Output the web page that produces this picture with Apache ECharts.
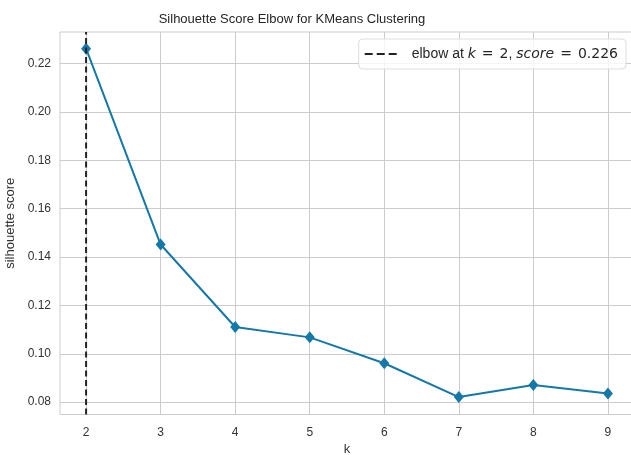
<!DOCTYPE html>
<html>
<head>
<meta charset="utf-8">
<script src="https://cdn.jsdelivr.net/npm/echarts@6/dist/echarts.min.js"></script>
<style>html,body{margin:0;padding:0;background:#fff;overflow:hidden;}#c{width:631px;height:455px;}</style>
</head>
<body>
<div id="c"></div>
<script>
const kValues = [2, 3, 4, 5, 6, 7, 8, 9];
const scores = [0.2262, 0.1452, 0.1111, 0.1068, 0.0961, 0.0821, 0.0871, 0.0836];
const xTicks = [2, 3, 4, 5, 6, 7, 8, 9];
const yTicks = [0.08, 0.10, 0.12, 0.14, 0.16, 0.18, 0.20, 0.22];
const elbowK = 2;
const elbowScore = 0.226;
const xMin = 1.65, xMax = 9.35, yMin = 0.0749, yMax = 0.2331;

const font = 'Liberation Sans, Arial, sans-serif';
const mathFont = 'DejaVu Sans, sans-serif';
const chart = echarts.init(document.getElementById('c'));
chart.setOption({
  animation: false,
  backgroundColor: '#fff',
  title: {
    text: 'Silhouette Score Elbow for KMeans Clustering',
    left: 287, top: 8, textAlign: 'center',
    textStyle: {fontFamily: font, fontSize: 13, fontWeight: 'normal', color: '#262626'}
  },
  legend: {
    data: ['elbow'],
    right: 5, top: 39,
    padding: [8, 8, 8, 6],
    itemWidth: 32, itemHeight: 3,
    itemGap: 10,
    icon: 'path://M0,0h8v2h-8z M12,0h8v2h-8z M24,0h8v2h-8z',
    backgroundColor: 'rgba(255,255,255,0.8)',
    borderColor: '#dddddd', borderWidth: 1, borderRadius: 4,
    formatter: function () {
      return '{s|}elbow at {i|k}{e|=}{m|' + elbowK + '}, {i|score}{e|=}{m|' + elbowScore.toFixed(3) + '}';
    },
    textStyle: {
      fontFamily: font, fontSize: 14, color: '#262626',
      rich: {
        s: {width: 10},
        i: {fontStyle: 'italic', fontFamily: mathFont, fontSize: 14, color: '#262626'},
        e: {fontFamily: mathFont, fontSize: 14, color: '#262626', padding: [0, 6, 0, 6]},
        m: {fontFamily: mathFont, fontSize: 14, color: '#262626'}
      }
    }
  },
  grid: {left: 60, width: 574, top: 32, bottom: 40.5, outerBoundsMode: 'none', containLabel: false,
    show: true, borderColor: '#cccccc', borderWidth: 1, backgroundColor: '#fff'},
  xAxis: {
    type: 'value', min: xMin, max: xMax,
    name: 'k', nameLocation: 'middle', nameGap: 24,
    nameTextStyle: {fontFamily: font, fontSize: 13, color: '#333333'},
    axisLine: {show: false},
    axisTick: {show: false, customValues: xTicks},
    axisLabel: {customValues: xTicks, margin: 12, fontFamily: font, fontSize: 12, color: '#333333'},
    splitLine: {show: true, lineStyle: {color: '#cccccc', width: 1}}
  },
  yAxis: {
    type: 'value', min: yMin, max: yMax,
    name: 'silhouette score', nameLocation: 'middle', nameGap: 30,
    nameTextStyle: {fontFamily: font, fontSize: 13, color: '#333333'},
    axisLine: {show: false},
    axisTick: {show: false, customValues: yTicks},
    axisLabel: {customValues: yTicks, margin: 9, fontFamily: font, fontSize: 12, color: '#333333',
      formatter: v => v.toFixed(2)},
    splitLine: {show: true, lineStyle: {color: '#cccccc', width: 1}}
  },
  series: [
    {
      name: 'score', type: 'line',
      data: kValues.map((k, i) => [k, scores[i]]),
      symbol: 'diamond', symbolSize: [10, 12],
      lineStyle: {color: '#1479a8', width: 2},
      itemStyle: {color: '#1479a8'},
      z: 3
    },
    {
      name: 'elbow', type: 'line',
      data: [[elbowK, yMin], [elbowK, yMax]],
      symbol: 'none',
      lineStyle: {color: '#222222', width: 2, type: [6, 3.5]},
      itemStyle: {color: '#222222'},
      z: 4
    }
  ]
});
</script>
</body>
</html>
